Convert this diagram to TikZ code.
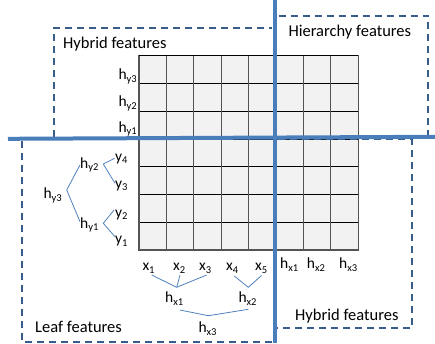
\documentclass[tikz,border=0pt]{standalone}
\usepackage{fontspec}
\setmainfont{Carlito}
\definecolor{sepblue}{HTML}{4A7EBB}
\definecolor{dashblue}{HTML}{385D8A}
\definecolor{treeblue}{HTML}{4F81BD}
\definecolor{cellgray}{HTML}{F2F2F2}
\definecolor{gridgray}{HTML}{555555}
\newcommand\lbl[2]{#1\raisebox{-2.6pt}{\fontsize{10.5}{11}\selectfont #2}}
\begin{document}
\begin{tikzpicture}[x=1pt,y=-1pt,
  lab/.style={inner sep=0pt,anchor=base west,font=\fontsize{15.5}{18}\selectfont},
  labr/.style={inner sep=0pt,anchor=base east,font=\fontsize{15.5}{18}\selectfont},
  title/.style={inner sep=0pt,anchor=base west,font=\fontsize{16.5}{20}\selectfont},
  tree/.style={draw=treeblue,line width=0.8pt},
  dashbox/.style={draw=dashblue,line width=1.8pt,dash pattern=on 7pt off 5pt},
  sepline/.style={draw=sepblue,line width=4pt}]
\useasboundingbox (0,0) rectangle (435,343);

% grid
\fill[cellgray] (139,55.7) rectangle (358.2,250);
\foreach \i in {1,...,7} {
  \draw[black,line width=0.9pt] (139,{55.7+27.75*\i}) -- (358.2,{55.7+27.75*\i});
}
\foreach \i in {1,...,7} {
  \draw[gridgray,line width=1.1pt] ({139+27.4*\i},55.7) -- ({139+27.4*\i},250);
}
\draw[gridgray,line width=1.2pt] (139,55.7) rectangle (358.2,250);
\draw[black,line width=0.9pt] (139,55.7) -- (358.2,55.7);

% dashed boxes
\draw[dashbox] (54,137) -- (54,28) -- (272,28);
\draw[dashbox] (278.5,15.7) -- (428.3,15.7) -- (428.3,135);
\draw[dashbox] (22.3,141) -- (22.3,342) -- (274,342);
\draw[dashbox] (278,139.3) -- (411.7,139.3) -- (411.7,328.3) -- (277,328.3);

% separators
\draw[sepline] (8,138.8) -- (435,136.8);
\draw[sepline] (274.8,0) -- (274.8,343);

% titles
\node[title] (t1) at (63,48.3) {Hybrid features};
\node[title] (t2) at (288.3,36) {Hierarchy features};
\node[title] (t3) at (35,332.3) {Leaf features};
\node[title] (t4) at (295,320) {Hybrid features};

% row labels
\node[labr] (ry3) at (137,79.5) {\lbl{h}{y3}};
\node[labr] (ry2) at (137,106.8) {\lbl{h}{y2}};
\node[labr] (ry1) at (137,132) {\lbl{h}{y1}};

% column labels
\node[lab] (x1) at (142.3,270.7) {\lbl{x}{1}};
\node[lab] (x2) at (173,270.7) {\lbl{x}{2}};
\node[lab] (x3) at (199,270.7) {\lbl{x}{3}};
\node[lab] (x4) at (226,270.7) {\lbl{x}{4}};
\node[lab] (x5) at (255,270.7) {\lbl{x}{5}};
\node[lab] (cx1) at (280,268.5) {\lbl{h}{x1}};
\node[lab] (cx2) at (306.7,268.5) {\lbl{h}{x2}};
\node[lab] (cx3) at (339,268.5) {\lbl{h}{x3}};

% left tree
\node[lab] (y4) at (115,161) {\lbl{y}{4}};
\node[lab] (y3) at (115,188.3) {\lbl{y}{3}};
\node[lab] (y2) at (115,217) {\lbl{y}{2}};
\node[lab] (y1) at (115,243.5) {\lbl{y}{1}};
\node[lab] (hy2) at (80,168) {\lbl{h}{y2}};
\node[lab] (hy1) at (80,228) {\lbl{h}{y1}};
\node[lab] (hy3) at (43.3,198.5) {\lbl{h}{y3}};
\coordinate (v43) at (103.3,164);
\coordinate (v21) at (103.3,223.3);
\coordinate (v3) at (66.7,190);
\draw[tree] ([shift={(-0.5,-2.7)}]y4.base west) -- (v43) -- ([shift={(0,-5)}]y3.base west);
\draw[tree] ([shift={(-1,-7)}]y2.base west) -- (v21) -- ([shift={(0,-6.8)}]y1.base west);
\draw[tree] ([shift={(0,-3)}]hy2.base west) -- (v3) -- ([shift={(0,-6.3)}]hy1.base west);

% bottom tree
\node[lab] (hx1) at (165,302.5) {\lbl{h}{x1}};
\node[lab] (hx2) at (238.3,302.5) {\lbl{h}{x2}};
\node[lab] (hx3) at (198.3,332.5) {\lbl{h}{x3}};
\coordinate (w1) at (176.7,287.3);
\coordinate (w2) at (248.3,287.3);
\coordinate (w3) at (208.3,315.7);
\draw[tree] ([shift={(9.4,4.3)}]x1.base west) -- (w1) -- ([shift={(7.7,4.3)}]x3.base west);
\draw[tree] ([shift={(7,4.3)}]x2.base west) -- (w1);
\draw[tree] ([shift={(8.3,5.3)}]x4.base west) -- (w2) -- ([shift={(6.5,4.8)}]x5.base west);
\draw[tree] ([shift={(15,7.5)}]hx1.base west) -- (w3) -- ([shift={(10,6.8)}]hx2.base west);
\end{tikzpicture}
\end{document}
